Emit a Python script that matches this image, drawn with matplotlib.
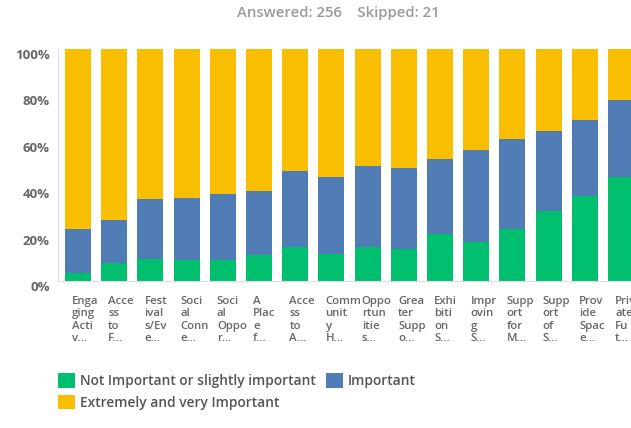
import matplotlib.pyplot as plt
import matplotlib.transforms as mtransforms
import numpy as np
from matplotlib.patches import Patch

categories = ["Enga\nging\nActi\nv...", "Acce\nss\nto\nF...", "Fest\nival\ns/Ev\ne...",
              "Soci\nal\nConn\ne...", "Soci\nal\nOppo\nr...", "A\nPlac\ne\nf...",
              "Acce\nss\nto\nA...", "Comm\nunit\ny\nH...", "Oppo\nrtun\nitie\ns...",
              "Grea\nter\nSupp\no...", "Exhi\nbiti\non\nS...", "Impr\novin\ng\nS...",
              "Supp\nort\nfor\nM...", "Supp\nort\nof\nS...", "Prov\nide\nSpac\ne...",
              "Priv\nate\nFu\nt..."]

not_important = [3.6, 7.9, 9.4, 9.1, 9.1, 11.3, 14.8, 11.6, 14.6, 13.7, 20.2, 16.6, 22.6, 30.0, 36.5, 44.9]
important = [18.8, 18.4, 26.0, 26.5, 28.6, 27.7, 32.4, 33.4, 34.9, 35.1, 32.6, 40.0, 38.4, 34.6, 32.8, 33.0]
extremely = [77.6, 73.7, 64.6, 64.4, 62.3, 61.0, 52.8, 55.0, 50.5, 51.2, 47.2, 43.4, 39.0, 35.4, 30.7, 22.1]

series_names = ["Not Important or slightly important", "Important", "Extremely and very Important"]
colors = ["#00bf6f", "#507cb6", "#f9be00"]

plt.rcParams['font.family'] = ['Open Sans', 'DejaVu Sans']

fig = plt.figure(figsize=(6.31, 4.28), dpi=100)
ax = fig.add_axes([58 / 631, 147 / 428, 583 / 631, 232 / 428])

x = np.arange(len(categories))
bottom = np.zeros(len(categories))
for vals, col in zip([not_important, important, extremely], colors):
    ax.bar(x, vals, width=0.72, bottom=bottom, color=col, edgecolor='none')
    bottom += np.array(vals)

ax.set_xlim(-0.55, 15.55)
ax.set_ylim(0, 100)
ax.set_yticks([0, 20, 40, 60, 80, 100])
ax.set_yticklabels(["0%", "20%", "40%", "60%", "80%", "100%"])
ax.tick_params(axis='y', length=0, pad=6, labelsize=9.5, labelcolor='#666666')
# percent labels sit a few pixels below their gridline value
shift = mtransforms.ScaledTranslation(0, -5 / 100, fig.dpi_scale_trans)
for lab in ax.get_yticklabels():
    lab.set_fontweight('bold')
    lab.set_transform(lab.get_transform() + shift)
ax.set_xticks([])

for s in ['top', 'right']:
    ax.spines[s].set_visible(False)
ax.spines['left'].set_color('#dddddd')
ax.spines['bottom'].set_color('#dddddd')

# category labels, left aligned just inside each bar
for i, name in enumerate(categories):
    ax.text(i - 0.16, -6.3, name, ha='left', va='top', fontsize=8.2,
            color='#666666', fontweight='semibold', linespacing=1.2,
            transform=ax.transData, clip_on=False)

fig.text(338 / 631, 1 - 13 / 428, "Answered: 256    Skipped: 21", ha='center', va='center',
         fontsize=10.7, color='#999999', fontweight='semibold')

handles = [Patch(facecolor=colors[0]), Patch(facecolor=colors[2]), Patch(facecolor=colors[1])]
labels = [series_names[0], series_names[2], series_names[1]]
fig.legend(handles, labels, ncol=2, loc='upper left', bbox_to_anchor=(52.5 / 631, 1 - 367.5 / 428),
           frameon=False, handlelength=1.25, handleheight=1.25,
           handletextpad=0.36, columnspacing=0.7, labelspacing=0.5, borderaxespad=0,
           labelcolor='#555555', prop={'weight': 'semibold', 'size': 9.9})

fig.savefig("out.png", dpi=100)
